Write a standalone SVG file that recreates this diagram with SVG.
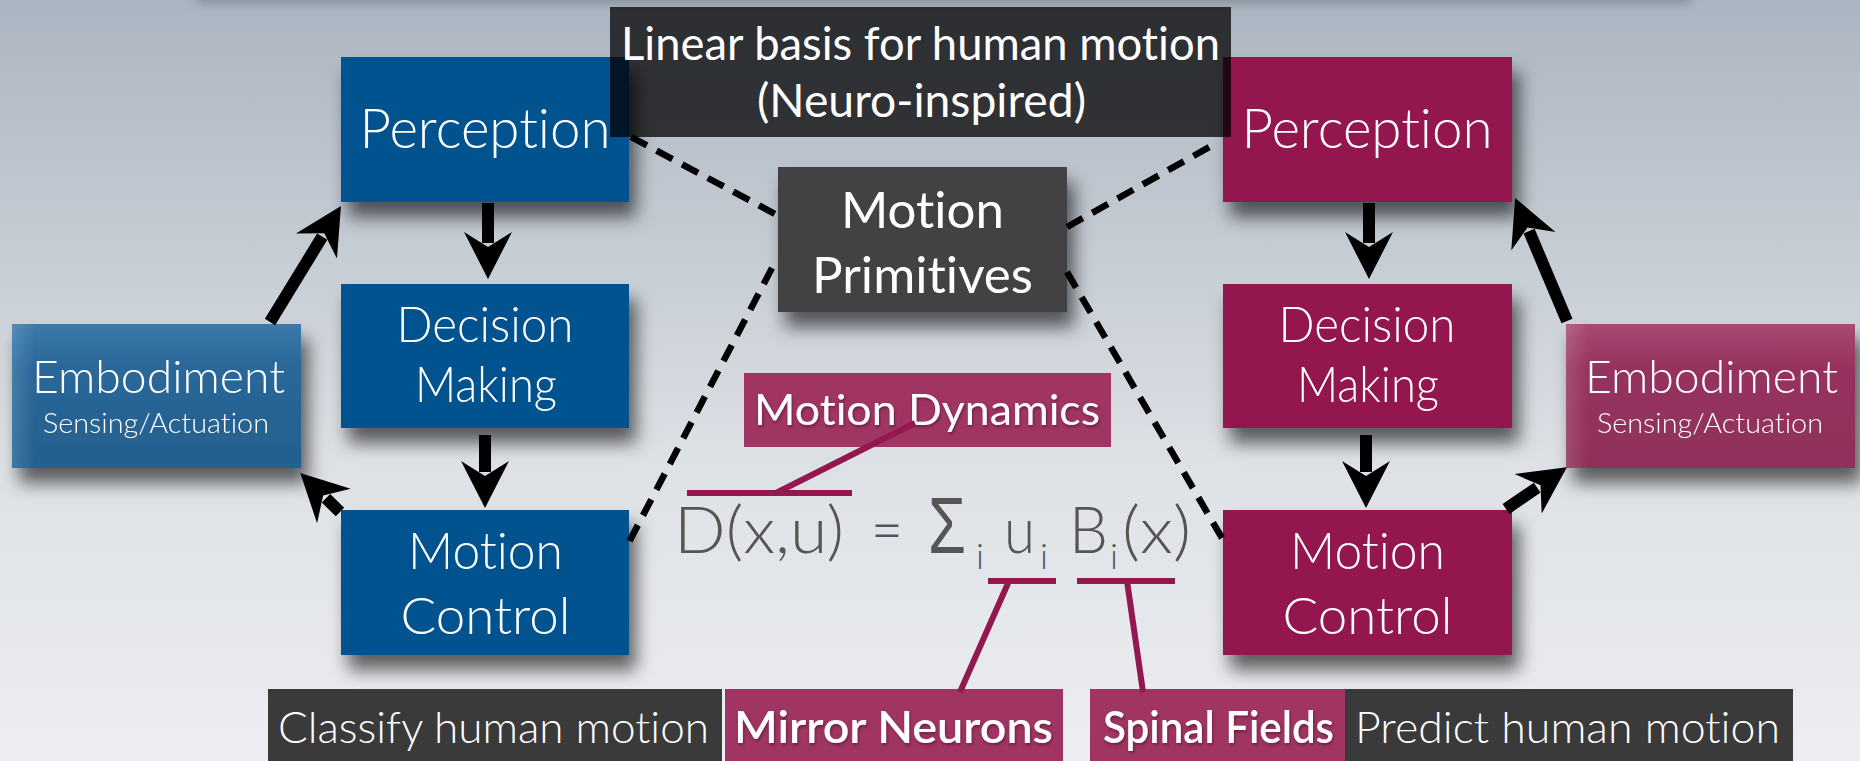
<svg xmlns="http://www.w3.org/2000/svg" width="1860" height="761" viewBox="0 0 1860 761">
<defs>
  <linearGradient id="bg" x1="0" y1="0" x2="0" y2="1">
    <stop offset="0" stop-color="#abb5c1"/>
    <stop offset="0.3" stop-color="#c3cad2"/>
    <stop offset="0.6" stop-color="#dde0e5"/>
    <stop offset="1" stop-color="#eceef1"/>
  </linearGradient>
  <linearGradient id="embB" x1="0" y1="0" x2="0" y2="1">
    <stop offset="0" stop-color="#3b7aab"/>
    <stop offset="0.3" stop-color="#2a6799"/>
    <stop offset="1" stop-color="#23608f"/>
  </linearGradient>
  <linearGradient id="embM" x1="0" y1="0" x2="0" y2="1">
    <stop offset="0" stop-color="#a84a74"/>
    <stop offset="0.3" stop-color="#96335f"/>
    <stop offset="1" stop-color="#902f5b"/>
  </linearGradient>
  <linearGradient id="edge" x1="0" y1="0" x2="1" y2="0">
    <stop offset="0" stop-color="#fff" stop-opacity="0.14"/>
    <stop offset="0.08" stop-color="#fff" stop-opacity="0"/>
  </linearGradient>
  <filter id="sh" x="-20%" y="-20%" width="150%" height="160%">
    <feDropShadow dx="7" dy="15" stdDeviation="9" flood-color="#000" flood-opacity="0.6"/>
  </filter>
  <filter id="ts" x="-5%" y="-20%" width="110%" height="150%">
    <feDropShadow dx="1" dy="2" stdDeviation="1.5" flood-color="#000" flood-opacity="0.35"/>
  </filter>
  <filter id="blur" x="-10%" y="-100%" width="120%" height="400%">
    <feGaussianBlur stdDeviation="5"/>
  </filter>
  <marker id="ah" markerUnits="userSpaceOnUse" viewBox="0 -25 48 50" markerWidth="48" markerHeight="50" refX="11" refY="0" orient="auto">
    <path d="M0,-24 L47,0 L0,24 L15,0 Z" fill="#000"/>
  </marker>
  <style>
    .lbl { font-family: Lato, "Open Sans", sans-serif; fill: #fff; text-anchor: middle; font-variant-ligatures: none; }
    .light { font-weight: 300; }
    .reg { font-weight: 400; }
    .bold { font-weight: 600; }
    .blue { fill: #02528f; }
    .mag { fill: #941650; }
    .maglt { fill: #a03463; }
    .dark { fill: #3a3a3b; }
    .arrow { stroke: #000; stroke-width: 12; fill: none; marker-end: url(#ah); }
    .dash { stroke: #000; stroke-width: 6.5; stroke-dasharray: 18 11; fill: none; }
    .ann { stroke: #93184f; stroke-width: 6; fill: none; }
    .eq { font-family: Lato, "Open Sans", sans-serif; font-weight: 300; fill: #555; font-variant-ligatures: none; }
    .sig { font-family: "Liberation Sans", Arial, sans-serif; font-weight: 400; fill: #555; }
  </style>
</defs>

<rect x="0" y="0" width="1860" height="761" fill="url(#bg)"/>
<rect x="196" y="-20" width="1494" height="24" fill="#6d747c" opacity="0.55" filter="url(#blur)"/>

<g id="perception-left" filter="url(#sh)">
  <rect class="blue" x="341" y="57" width="288" height="145"/>
  <text class="lbl light" x="485" y="148" font-size="56" textLength="251" lengthAdjust="spacingAndGlyphs">Perception</text>
</g>
<g id="decision-left" filter="url(#sh)">
  <rect class="blue" x="341" y="284" width="288" height="144"/>
  <text class="lbl light" x="485" y="342" font-size="49" textLength="177" lengthAdjust="spacingAndGlyphs">Decision</text>
  <text class="lbl light" x="486" y="402" font-size="49" textLength="142" lengthAdjust="spacingAndGlyphs">Making</text>
</g>
<g id="control-left" filter="url(#sh)">
  <rect class="blue" x="341" y="510" width="288" height="145"/>
  <text class="lbl light" x="485.5" y="569" font-size="52" textLength="155" lengthAdjust="spacingAndGlyphs">Motion</text>
  <text class="lbl light" x="485.5" y="634" font-size="52" textLength="170" lengthAdjust="spacingAndGlyphs">Control</text>
</g>
<g id="embodiment-left" filter="url(#sh)">
  <rect x="12" y="324" width="289" height="144" fill="url(#embB)"/>
  <rect x="12" y="324" width="289" height="144" fill="url(#edge)"/>
  <text class="lbl light" x="158.5" y="393" font-size="46" textLength="253" lengthAdjust="spacingAndGlyphs">Embodiment</text>
  <text class="lbl light" x="156" y="433" font-size="28" textLength="226" lengthAdjust="spacingAndGlyphs">Sensing/Actuation</text>
</g>

<g id="perception-right" filter="url(#sh)">
  <rect class="mag" x="1223" y="57" width="289" height="145"/>
  <text class="lbl light" x="1367" y="148" font-size="56" textLength="251" lengthAdjust="spacingAndGlyphs">Perception</text>
</g>
<g id="decision-right" filter="url(#sh)">
  <rect class="mag" x="1223" y="284" width="289" height="144"/>
  <text class="lbl light" x="1367" y="342" font-size="49" textLength="177" lengthAdjust="spacingAndGlyphs">Decision</text>
  <text class="lbl light" x="1368" y="402" font-size="49" textLength="142" lengthAdjust="spacingAndGlyphs">Making</text>
</g>
<g id="control-right" filter="url(#sh)">
  <rect class="mag" x="1223" y="510" width="289" height="145"/>
  <text class="lbl light" x="1367.5" y="569" font-size="52" textLength="155" lengthAdjust="spacingAndGlyphs">Motion</text>
  <text class="lbl light" x="1367.5" y="634" font-size="52" textLength="170" lengthAdjust="spacingAndGlyphs">Control</text>
</g>
<g id="embodiment-right" filter="url(#sh)">
  <rect x="1566" y="324" width="289" height="144" fill="url(#embM)"/>
  <rect x="1566" y="324" width="289" height="144" fill="url(#edge)"/>
  <text class="lbl light" x="1711.5" y="393" font-size="46" textLength="253" lengthAdjust="spacingAndGlyphs">Embodiment</text>
  <text class="lbl light" x="1710" y="433" font-size="28" textLength="226" lengthAdjust="spacingAndGlyphs">Sensing/Actuation</text>
</g>

<g id="motion-primitives" filter="url(#sh)">
  <rect x="778" y="167" width="289" height="145" fill="#434344"/>
  <text class="lbl reg" x="922.5" y="228" font-size="50" textLength="163" lengthAdjust="spacingAndGlyphs">Motion</text>
  <text class="lbl reg" x="922.5" y="293" font-size="50" textLength="221" lengthAdjust="spacingAndGlyphs">Primitives</text>
</g>

<g id="title">
  <rect x="610" y="7" width="621" height="130" fill="#000" fill-opacity="0.74"/>
  <text class="lbl reg" x="920.5" y="60" font-size="47" textLength="599" lengthAdjust="spacingAndGlyphs">Linear basis for human motion</text>
  <text class="lbl reg" x="921.5" y="117" font-size="47" textLength="329" lengthAdjust="spacingAndGlyphs">(Neuro-inspired)</text>
</g>

<g id="motion-dynamics">
  <rect class="maglt" x="744" y="373" width="367" height="74"/>
  <text class="lbl reg" x="927" y="425" font-size="43" textLength="346" lengthAdjust="spacingAndGlyphs" filter="url(#ts)">Motion Dynamics</text>
</g>

<g id="equation">
  <text class="eq" x="674" y="553" font-size="66" textLength="170" lengthAdjust="spacingAndGlyphs">D(x,u)</text>
  <text class="eq" x="871" y="553" font-size="65" textLength="32" lengthAdjust="spacingAndGlyphs">=</text>
  <text class="sig" x="928" y="553" font-size="80" textLength="38" lengthAdjust="spacingAndGlyphs">Σ</text>
  <text class="eq" x="1004" y="553" font-size="65" textLength="31" lengthAdjust="spacingAndGlyphs">u</text>
  <text class="eq" x="1069" y="553" font-size="65" textLength="39" lengthAdjust="spacingAndGlyphs">B</text>
  <text class="eq" x="1122" y="553" font-size="65" textLength="69" lengthAdjust="spacingAndGlyphs">(x)</text>
  <text class="eq" x="976" y="569" font-size="36">i</text>
  <text class="eq" x="1040" y="569" font-size="36">i</text>
  <text class="eq" x="1110" y="569" font-size="36">i</text>
</g>

<g id="classify">
  <rect class="dark" x="268" y="689" width="454" height="72"/>
  <text class="lbl light" x="493.5" y="743" font-size="44" textLength="431" lengthAdjust="spacingAndGlyphs">Classify human motion</text>
</g>
<g id="mirror-neurons">
  <rect class="maglt" x="725" y="689" width="338" height="72"/>
  <text class="lbl bold" x="893.5" y="743" font-size="44" textLength="319" lengthAdjust="spacingAndGlyphs" filter="url(#ts)">Mirror Neurons</text>
</g>
<g id="spinal-fields">
  <rect class="maglt" x="1090" y="689" width="255" height="72"/>
  <text class="lbl bold" x="1218.5" y="743" font-size="44" textLength="231" lengthAdjust="spacingAndGlyphs" filter="url(#ts)">Spinal Fields</text>
</g>
<g id="predict">
  <rect class="dark" x="1345" y="689" width="448" height="72"/>
  <text class="lbl light" x="1567.5" y="743" font-size="44" textLength="425" lengthAdjust="spacingAndGlyphs">Predict human motion</text>
</g>

<g id="connectors">
  <path class="arrow" d="M488,203 L488,243"/>
  <path class="arrow" d="M485,435 L485,472"/>
  <path class="arrow" d="M270,322 L322.2,236.7"/>
  <path class="arrow" d="M340,512 L326,498.3"/>
  <path class="arrow" d="M1369,203 L1369,243"/>
  <path class="arrow" d="M1366,435 L1366,472"/>
  <path class="arrow" d="M1506,509 L1537.2,487.6"/>
  <path class="arrow" d="M1567,321 L1529.1,231.1"/>
  <path class="dash" d="M631,137 L777,215"/>
  <path class="dash" d="M772,268 L627,546"/>
  <path class="dash" d="M1067,227 L1213,145"/>
  <path class="dash" d="M1067,272 L1222,538"/>
  <path class="ann" d="M687,493 L852,493 M776,493 L915,423"/>
  <path class="ann" d="M988,581 L1056,581 M1009,581 L960,692"/>
  <path class="ann" d="M1077,581 L1175,581 M1127,581 L1143,692"/>
</g>
</svg>
